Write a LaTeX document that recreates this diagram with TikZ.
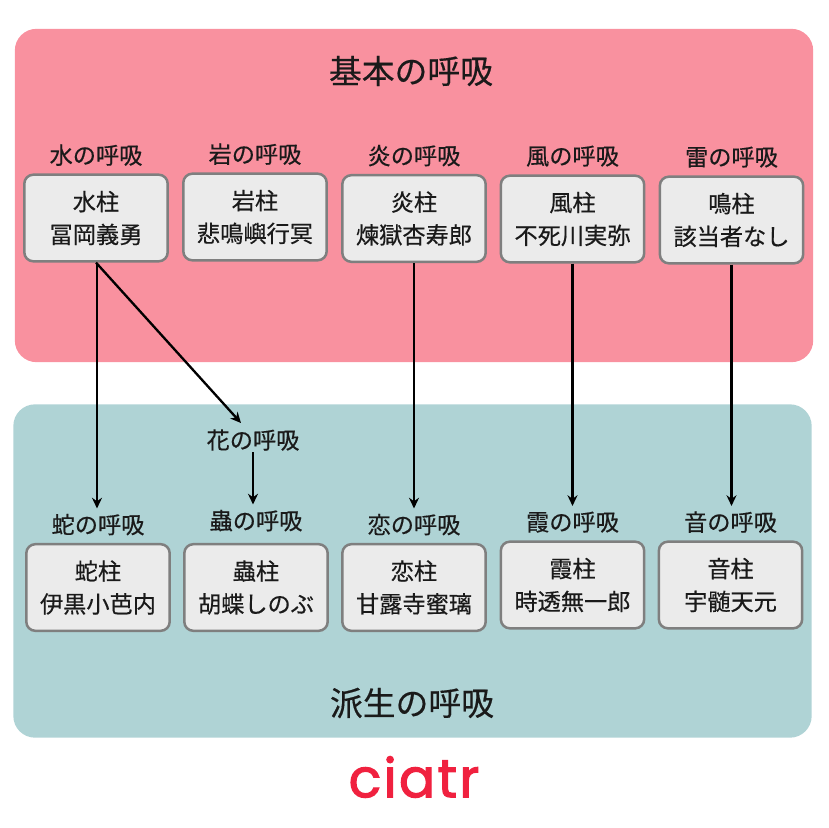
\documentclass[tikz,border=0pt]{standalone}
\usepackage{fontspec}
\usetikzlibrary{positioning,arrows.meta}
\newfontfamily\cjk[FakeBold=0.4]{Noto Sans CJK JP}
\newfontfamily\logofont[FakeBold=2,LetterSpace=4]{Poppins}
\definecolor{panelpink}{HTML}{F9919F}
\definecolor{panelteal}{HTML}{AFD3D5}
\definecolor{boxfill}{HTML}{EBEBEB}
\definecolor{boxedge}{HTML}{7F7F7F}
\definecolor{logored}{HTML}{F0213F}
\definecolor{inkblack}{HTML}{1A1A1A}
\tikzset{
  panel/.style={rectangle, rounded corners=6.5mm, minimum width=239.5mm, minimum height=100mm, inner sep=0pt},
  pillar/.style={rectangle, rounded corners=2.7mm, minimum width=43mm, minimum height=26mm, align=center, inner sep=0pt, draw=boxedge, line width=0.75mm, fill=boxfill, text=inkblack, font=\cjk\fontsize{19.8}{28}\selectfont},
  breath/.style={minimum height=9.6mm, inner sep=0pt, text=inkblack, font=\cjk\fontsize{19.8}{24}\selectfont},
  headline/.style={inner sep=0pt, text=inkblack, font=\cjk\fontsize{28}{34}\selectfont},
  link/.style={-{Stealth[length=3.2mm,width=3mm]}, line width=0.7mm, black},
  node distance=0.6mm
}
\begin{document}
\begin{tikzpicture}[x=0.3mm,y=-0.3mm]
	\useasboundingbox (0,0) rectangle (828,828);
	\node[panel, fill=panelpink] (upper) at (414,195.5) {};
	\node[panel, fill=panelteal] (lower) at (412.5,571) {};
	\node[headline] (upperhead) at (411,71) {基本の呼吸};
	\node[headline] (lowerhead) at (412,703) {派生の呼吸};

	\node[pillar] (mizu) at (96,218) {水柱\\冨岡義勇};
	\node[pillar] (iwa) at (255,217) {岩柱\\悲鳴嶼行冥};
	\node[pillar] (hono) at (414,218.5) {炎柱\\煉獄杏寿郎};
	\node[pillar] (kaze) at (572.5,219) {風柱\\不死川実弥};
	\node[pillar] (kami) at (731.5,220) {鳴柱\\該当者なし};

	\node[breath, above=of mizu] (mizulabel) {水の呼吸};
	\node[breath, above=of iwa] (iwalabel) {岩の呼吸};
	\node[breath, above=of hono] (honolabel) {炎の呼吸};
	\node[breath, above=of kaze] (kazelabel) {風の呼吸};
	\node[breath, above=of kami] (kamilabel) {雷の呼吸};

	\node[pillar] (hebi) at (98,587.5) {蛇柱\\伊黒小芭内};
	\node[pillar] (mushi) at (256,587.5) {蟲柱\\胡蝶しのぶ};
	\node[pillar] (koi) at (414,587.5) {恋柱\\甘露寺蜜璃};
	\node[pillar] (kasumi) at (572.5,585) {霞柱\\時透無一郎};
	\node[pillar] (oto) at (730.5,585) {音柱\\宇髄天元};

	\node[breath, above=of hebi] (hebilabel) {蛇の呼吸};
	\node[breath, above=1.8mm of mushi] (mushilabel) {蟲の呼吸};
	\node[breath, above=of koi] (koilabel) {恋の呼吸};
	\node[breath, above=of kasumi] (kasumilabel) {霞の呼吸};
	\node[breath, above=of oto] (otolabel) {音の呼吸};
	\node[breath] (hana) at (253,440) {花の呼吸};

	\node[font=\logofont\fontsize{46}{46}\selectfont, text=logored, inner sep=0pt] (logo) at (414,777) {ciatr};

	\coordinate (hanatip) at (241,423);
	\draw[link] ([xshift=0.3mm]mizu.south) -- ([xshift=0.3mm]mizu.south |- hebilabel.north);
	\draw[link] (mizu.south) -- (hanatip);
	\draw[link, shorten <=-1.2mm] (hana.south) -- (hana.south |- mushilabel.north);
	\draw[link] (hono.south) -- (koilabel.north);
	\draw[link] (kaze.south) -- (kasumilabel.north);
	\draw[link] (kami.south) -- (kami.south |- otolabel.north);
\end{tikzpicture}
\end{document}
